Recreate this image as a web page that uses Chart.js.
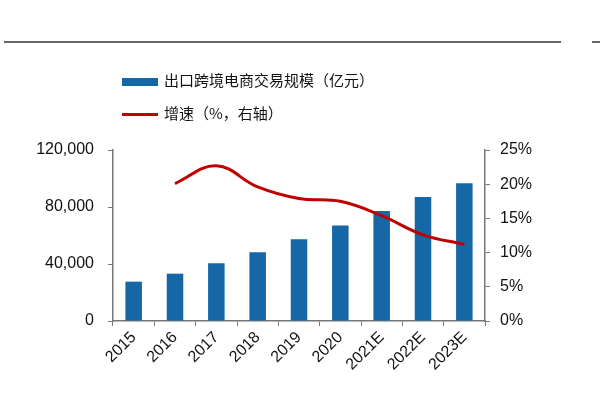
<!DOCTYPE html>
<html>
<head>
<meta charset="utf-8">
<script src="https://cdn.jsdelivr.net/npm/chart.js@4.4.1/dist/chart.umd.min.js"></script>
<style>
  html, body { margin: 0; padding: 0; background: #fff; }
  #wrap { position: relative; width: 600px; height: 400px; }
  #c { position: absolute; left: 0; top: 0; }
  .rule { position: absolute; top: 41px; height: 2px; background: #666; }
  .leg { position: absolute; left: 122px; font-family: "Noto Sans CJK SC", sans-serif; font-size: 15px; color: #111; line-height: 20px; white-space: nowrap; }
  .leg .sw { display: inline-block; vertical-align: middle; width: 36px; margin-right: 6px; }
</style>
</head>
<body>
<div id="wrap">
  <canvas id="c" width="600" height="400"></canvas>
  <div class="rule" style="left:4px;width:557px;"></div>
  <div class="rule" style="left:592px;width:8px;"></div>
  <div class="leg" style="top:70px;"><span class="sw" style="height:8px;background:#1567a6;"></span><span id="l1"></span></div>
  <div class="leg" style="top:103px;"><span class="sw" style="height:3px;background:#c00000;"></span><span id="l2"></span></div>
</div>
<script>
const categories = ["2015","2016","2017","2018","2019","2020","2021E","2022E","2023E"];
const exportScale = [27600, 33200, 40500, 48200, 57300, 67100, 77200, 87000, 96600];
const growthRate = [null, 20.1, 22.7, 19.6, 17.9, 17.5, 15.4, 12.6, 11.2];
const leftTicks = [0, 40000, 80000, 120000];
const rightTicks = [0, 5, 10, 15, 20, 25];
const barLabel = "出口跨境电商交易规模（亿元）";
const lineLabel = "增速（%，右轴）";

document.getElementById('l1').textContent = barLabel;
document.getElementById('l2').textContent = lineLabel;

const tickFont = { family: "'Liberation Sans', Arial, sans-serif", size: 16 };
const axisColor = '#777';

new Chart(document.getElementById('c'), {
  data: {
    labels: categories,
    datasets: [
      {
        type: 'line', label: lineLabel, data: growthRate, yAxisID: 'y1',
        borderColor: '#c00000', borderWidth: 3, pointRadius: 0, tension: 0.4,
        fill: false, order: 0
      },
      {
        type: 'bar', label: barLabel, data: exportScale, yAxisID: 'y',
        backgroundColor: '#1567a6', barPercentage: 0.4, categoryPercentage: 1.0, order: 1
      }
    ]
  },
  options: {
    responsive: false,
    animation: false,
    layout: { padding: { top: 150, left: 0, right: 0, bottom: 0 } },
    plugins: { legend: { display: false }, tooltip: { enabled: false } },
    scales: {
      x: {
        grid: { display: true, drawOnChartArea: false, drawTicks: true, tickLength: 5, color: axisColor, offset: true },
        border: { display: true, color: axisColor, width: 1.5 },
        ticks: { color: '#111', font: tickFont, maxRotation: 45, minRotation: 45, padding: 2 },
        afterFit: s => { s.height = 79; }
      },
      y: {
        position: 'left', min: 0, max: 120000,
        afterBuildTicks: s => { s.ticks = leftTicks.map(v => ({ value: v })); },
        grid: { display: true, drawOnChartArea: false, tickLength: 5, color: axisColor },
        border: { display: true, color: axisColor, width: 1.5 },
        ticks: { color: '#111', font: tickFont, padding: 14, callback: v => v.toLocaleString('en-US') },
        afterFit: s => { s.width = 113; }
      },
      y1: {
        position: 'right', min: 0, max: 25,
        afterBuildTicks: s => { s.ticks = rightTicks.map(v => ({ value: v })); },
        grid: { display: true, drawOnChartArea: false, tickLength: 5, color: axisColor },
        border: { display: true, color: axisColor, width: 1.5 },
        ticks: { color: '#111', font: tickFont, padding: 10, callback: v => v + '%' },
        afterFit: s => { s.width = 115; }
      }
    }
  }
});
</script>
</body>
</html>
